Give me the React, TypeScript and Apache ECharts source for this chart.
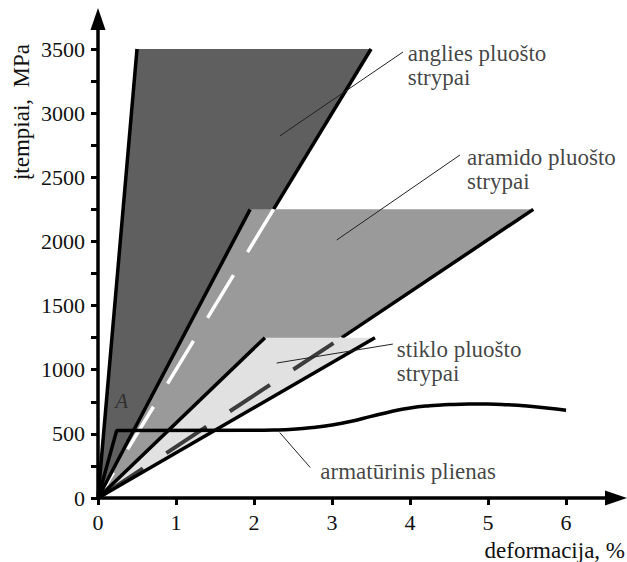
import React, { useEffect, useRef } from "react";
import * as echarts from "echarts";

// Axis ticks and labels
const X_TICKS = [0, 1, 2, 3, 4, 5, 6];
const Y_TICKS = [0, 250, 500, 750, 1000, 1250, 1500, 1750, 2000, 2250, 2500, 2750, 3000, 3250, 3500];
const Y_LABELS = [0, 500, 1000, 1500, 2000, 2500, 3000, 3500];
const X_MAX = 6.64;
const Y_MAX = 3734;

// Stress-strain envelopes of FRP bars: [strain %, stress MPa]
const carbonZone = [[0, 0], [0.5, 3500], [3.5, 3500]];
const aramidZone = [[0, 0], [1.95, 2250], [5.58, 2250]];
const glassZone = [[0, 0], [2.14, 1250], [3.55, 1250]];

// Boundary lines of the envelopes
const carbonLeft = [[0, 0], [0.5, 3500]];
const carbonRightUpper = [[2.25, 2250], [3.5, 3500]];
const carbonRightHidden = [[2.25, 2250], [0, 0]];
const aramidLeft = [[0, 0], [1.95, 2250]];
const aramidRightUpper = [[3.125, 1250], [5.58, 2250]];
const aramidRightHidden = [[3.125, 1250], [0, 0]];
const glassLeft = [[0, 0], [2.14, 1250]];
const glassRight = [[0, 0], [3.55, 1250]];

// Reinforcing steel: elastic part + yield plateau, then strain hardening
const steelYield = [[0, 0], [0.24, 527], [2.0, 528]];
const steelHardening = [
  [2.0, 528], [2.25, 530], [2.5, 536], [2.75, 549], [3.0, 569], [3.25, 598],
  [3.5, 636], [3.75, 673], [4.0, 702], [4.25, 719], [4.5, 728], [4.75, 732],
  [5.0, 732], [5.25, 727], [5.5, 717], [5.75, 702], [6.0, 684],
];

// Leader lines from the captions to the curves
const leaderCarbon = [[2.33, 2822], [3.91, 3477]];
const leaderAramid = [[3.06, 2011], [4.64, 2674]];
const leaderGlass = [[2.29, 1052], [3.78, 1200]];
const leaderSteel = [[2.33, 510], [2.72, 238]];

// Captions
const captionNames = ["anglies pluošto\nstrypai", "aramido pluošto\nstrypai", "stiklo pluošto\nstrypai", "armatūrinis plienas"];
const captionAnchors = [[3.97, 3560], [4.73, 2750], [3.83, 1255], [2.85, 304]];
const pointLabel = "A";
const pointLabelAnchor = [0.22, 845];

const FONT = "'Liberation Serif', 'Times New Roman', serif";
const INK = "#111";

function zoneSeries(points: number[][], color: string, z: number) {
  return {
    type: "custom",
    silent: true,
    z,
    data: [[0, 0]],
    renderItem: (_params: any, api: any) => ({
      type: "polygon",
      shape: { points: points.map((p) => api.coord(p)) },
      style: { fill: color },
    }),
  };
}

function lineSeries(points: number[][], color: string, width: number, z: number, dash?: number[], dashOffset = 0) {
  return {
    type: "line",
    silent: true,
    z,
    symbol: "none",
    showSymbol: false,
    data: points,
    lineStyle: { color, width, type: dash ? dash : "solid", dashOffset, cap: "butt" },
  };
}

export default function App() {
  const ref = useRef<HTMLDivElement>(null);

  useEffect(() => {
    if (!ref.current) return;
    const chart = echarts.init(ref.current, undefined, { renderer: "svg" });

    const axisLine = {
      show: true,
      symbol: ["none", "triangle"],
      symbolSize: [15, 22],
      lineStyle: { color: "#000", width: 3.5 },
    };

    chart.setOption({
      animation: false,
      backgroundColor: "#fff",
      grid: { left: 98, right: 11, top: 19, bottom: 64, outerBoundsMode: "none" },
      xAxis: {
        type: "value",
        min: 0,
        max: X_MAX,
        axisLine,
        axisTick: { show: true, customValues: X_TICKS, length: 7, lineStyle: { color: "#000", width: 3 } },
        axisLabel: {
          customValues: X_TICKS,
          formatter: (v: number) => String(v),
          fontFamily: FONT,
          fontSize: 22,
          color: INK,
          margin: 13,
        },
        splitLine: { show: false },
      },
      yAxis: {
        type: "value",
        min: 0,
        max: Y_MAX,
        axisLine,
        axisTick: { show: true, customValues: Y_TICKS, length: 7, lineStyle: { color: "#000", width: 3 } },
        axisLabel: {
          customValues: Y_LABELS,
          formatter: (v: number) => String(v),
          fontFamily: FONT,
          fontSize: 22,
          color: INK,
          margin: 13,
        },
        splitLine: { show: false },
      },
      graphic: [
        {
          type: "text",
          x: 21,
          y: 112,
          rotation: Math.PI / 2,
          style: {
            text: "įtempiai,  MPa",
            fontFamily: FONT,
            fontSize: 23,
            fill: INK,
            align: "center",
            verticalAlign: "middle",
          },
        },
        {
          type: "text",
          x: 625,
          y: 550,
          style: {
            text: "deformacija, %",
            fontFamily: FONT,
            fontSize: 23,
            fill: INK,
            align: "right",
            verticalAlign: "middle",
          },
        },
      ],
      series: [
        zoneSeries(carbonZone, "#5f5f5f", 1),
        lineSeries(carbonLeft, "#000", 3.5, 2),
        lineSeries(carbonRightUpper, "#000", 3.5, 2),
        zoneSeries(aramidZone, "#9a9a9a", 3),
        lineSeries(carbonRightHidden, "#fff", 3.5, 4, [50, 27]),
        lineSeries(aramidLeft, "#000", 3.5, 4),
        lineSeries(aramidRightUpper, "#000", 3.5, 4),
        zoneSeries(glassZone, "#e1e1e1", 5),
        lineSeries(aramidRightHidden, "#3c3c3c", 4, 6, [48, 28], 66),
        lineSeries(glassLeft, "#000", 3.5, 6),
        lineSeries(glassRight, "#000", 3.5, 6),
        lineSeries(steelYield, "#000", 3.5, 7),
        { ...lineSeries(steelHardening, "#000", 3.5, 7), smooth: 0.5 },
        lineSeries(leaderCarbon, "#222", 1, 8),
        lineSeries(leaderAramid, "#222", 1, 8),
        lineSeries(leaderGlass, "#222", 1, 8),
        lineSeries(leaderSteel, "#222", 1, 8),
        {
          type: "scatter",
          silent: true,
          z: 9,
          symbolSize: 0,
          data: captionNames.map((name, i) => ({ name, value: captionAnchors[i] })),
          label: {
            show: true,
            formatter: "{b}",
            position: [0, 0],
            align: "left",
            verticalAlign: "top",
            fontFamily: FONT,
            fontSize: 23,
            lineHeight: 24,
            color: INK,
          },
        },
        {
          type: "scatter",
          silent: true,
          z: 9,
          symbolSize: 0,
          data: [{ name: pointLabel, value: pointLabelAnchor }],
          label: {
            show: true,
            formatter: "{b}",
            position: [0, 0],
            align: "left",
            verticalAlign: "top",
            fontFamily: FONT,
            fontStyle: "italic",
            fontSize: 21,
            lineHeight: 22,
            color: "#222",
          },
        },
      ],
    });

    return () => chart.dispose();
  }, []);

  return (
    <div
      ref={ref}
      style={{ position: "fixed", left: 0, top: 0, width: 627, height: 562, background: "#fff" }}
    />
  );
}
